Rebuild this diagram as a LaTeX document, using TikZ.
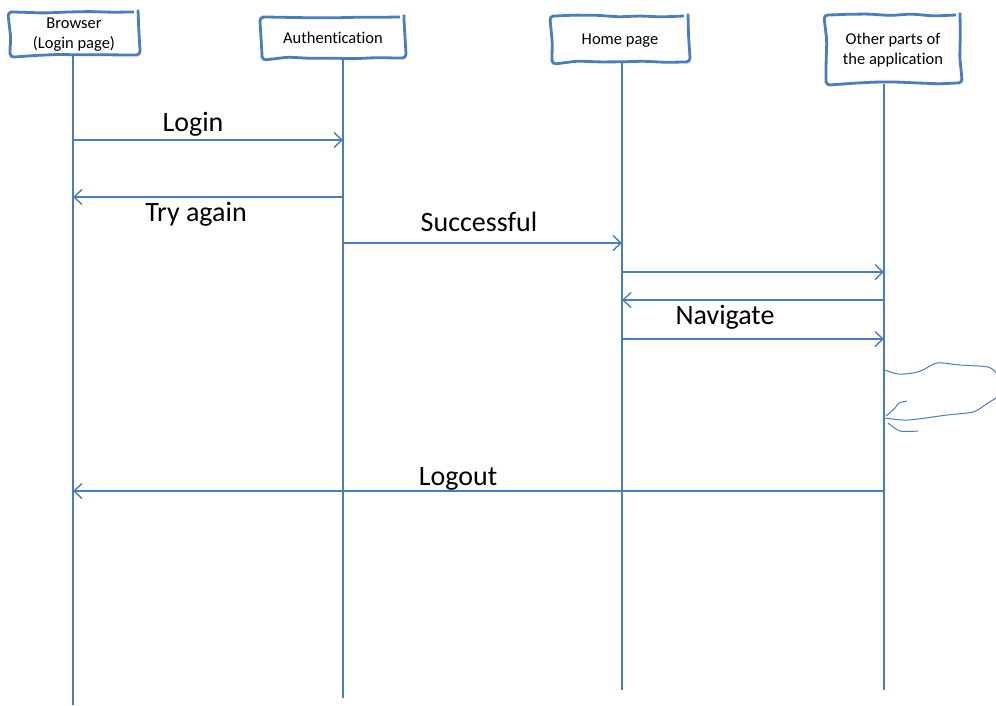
\documentclass[tikz,border=0pt]{standalone}
\usepackage{fontspec}
\setmainfont{Carlito}[Ligatures=NoCommon]
\usetikzlibrary{arrows.meta,decorations.pathmorphing}
\definecolor{lineblue}{RGB}{74,126,187}
\pgfmathsetseed{7}
\begin{document}
\begin{tikzpicture}[x=1pt, y=-1pt,
    actor/.style={draw=lineblue, line width=2.8pt, rounded corners=4pt, align=center,
      inner sep=0pt, text depth=0pt, font=\fontsize{16.5}{20}\selectfont,
      decorate, decoration={random steps, segment length=22pt, amplitude=1pt}},
    life/.style={draw=lineblue, line width=2pt},
    msg/.style={draw=lineblue, line width=1.4pt,
      -{Straight Barb[length=8pt, width=15pt, line width=1.4pt]}},
    lbl/.style={font=\fontsize{28}{30}\selectfont, inner sep=0pt}]
      \useasboundingbox (0,0) rectangle (996,705);

      \node[actor, minimum width=128pt, minimum height=43pt] (browser) at (74,33.5) {Browser\\(Login page)};
      \node[actor, minimum width=142pt, minimum height=41pt] (auth) at (333,37.5) {Authentication};
      \node[actor, minimum width=136pt, minimum height=46pt] (home) at (620,39) {Home page};
      \node[actor, minimum width=134pt, minimum height=68pt] (other) at (893,49) {Other parts of\\the application};

      \coordinate (browserEnd) at (73,705);
      \coordinate (authEnd) at (343,698);
      \coordinate (homeEnd) at (622,690);
      \coordinate (otherEnd) at (884,690);

      \draw[life] (browserEnd |- browser.south) -- (browserEnd);
      \draw[life] (authEnd |- auth.south) -- (authEnd);
      \draw[life] (homeEnd |- home.south) -- (homeEnd);
      \draw[life] (otherEnd |- other.south) -- (otherEnd);

      \draw[msg] (browserEnd |- 0,140) -- (authEnd |- 0,140);
      \draw[msg] (authEnd |- 0,197) -- (browserEnd |- 0,197);
      \draw[msg] (authEnd |- 0,243) -- (homeEnd |- 0,243);
      \draw[msg] (homeEnd |- 0,272) -- (otherEnd |- 0,272);
      \draw[msg] (otherEnd |- 0,300) -- (homeEnd |- 0,300);
      \draw[msg] (homeEnd |- 0,339) -- (otherEnd |- 0,339);
      \draw[msg] (otherEnd |- 0,491) -- (browserEnd |- 0,491);

      \node[lbl] (login) at (193,124) {Login};
      \node[lbl] (tryagain) at (196,214) {Try again};
      \node[lbl] (successful) at (479,222) {Successful};
      \node[lbl] (navigate) at (725,317) {Navigate};
      \node[lbl] (logout) at (458,479) {Logout};

      % hand
      \draw[lineblue, line width=1pt] plot[smooth] coordinates {(885,370) (898,374) (913,373) (923,370) (937,363) (960,365) (988,367) (996,373)};
      \draw[lineblue, line width=1pt] plot[smooth] coordinates {(885,418) (908,420) (947,415) (973,412) (985,405) (996,398)};
      \draw[lineblue, line width=1pt] plot[smooth] coordinates {(886,416) (895,408) (899,403) (907,401)};
      \draw[lineblue, line width=1pt] plot[smooth] coordinates {(888,423) (900,431) (918,431)};
\end{tikzpicture}
\end{document}
